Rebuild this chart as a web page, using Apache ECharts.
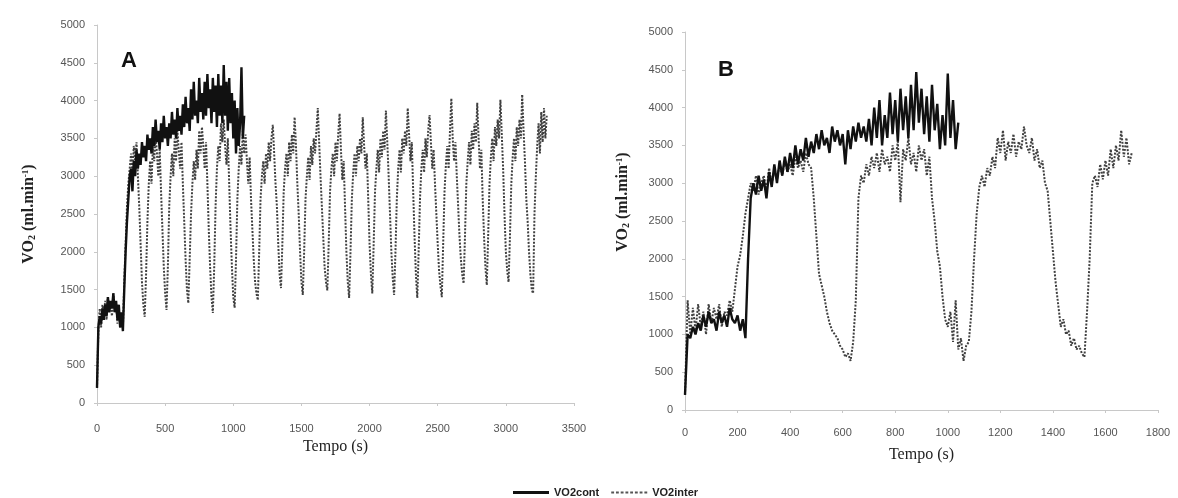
<!DOCTYPE html>
<html>
<head>
<meta charset="utf-8">
<script src="https://cdn.jsdelivr.net/npm/echarts@6/dist/echarts.min.js"></script>
<style>
  html, body { margin: 0; padding: 0; background: #fff; }
  #chart { width: 1178px; height: 498px; }
</style>
</head>
<body>
<div id="chart"></div>
<script>
// passo de tempo entre amostras (s)
var STEP = 10;

// Painel A - VO2 contínuo (0..1080 s)
var contA = [
  200, 1000, 1150, 1050, 1250, 1100, 1300, 1150, 1400, 1200,
  1350, 1250, 1450, 1200, 1350, 1100, 1300, 1000, 1200, 950,
  1500, 2000, 2400, 2700, 3000, 3100, 2800, 3200, 3000, 3350,
  3100, 3300, 3150, 3450, 3250, 3400, 3200, 3550, 3350, 3500,
  3300, 3650, 3400, 3750, 3450, 3600, 3350, 3700, 3450, 3800,
  3500, 3650, 3400, 3700, 3500, 3850, 3550, 3750, 3500, 3900,
  3600, 3800, 3550, 3950, 3650, 4050, 3700, 3900, 3600, 4150,
  3750, 4250, 3800, 4000, 3700, 4300, 3850, 4100, 3750, 4250,
  3800, 4350, 3900, 4150, 3700, 4300, 3850, 4200, 3650, 4350,
  3800, 4200, 3700, 4470, 3800, 4250, 3600, 4300, 3700, 4100,
  3500, 4000, 3300, 3900, 3400, 3700, 4440, 3500, 3800
];

// Painel A - VO2 intermitente (0..3300 s)
var interA = [
  200, 950, 1250, 1000, 1300, 1150, 1350, 1100, 1400, 1250,
  1300, 1150, 1450, 1200, 1300, 1050, 1250, 1000, 1150, 1000,
  1600, 2100, 2600, 2900, 3100, 3300, 3000, 3400, 3200, 3450,
  3000, 2600, 2100, 1600, 1300, 1140, 1700, 2400, 2900, 3200,
  2900, 3400, 3200, 3550, 3300, 3000, 3350, 2800, 2300, 1800,
  1450, 1230, 1800, 2600, 3000, 3300, 3000, 3500, 3200, 3600,
  3350, 3100, 3450, 2900, 2400, 1900, 1500, 1320, 1900, 2500,
  2900, 3200, 2950, 3350, 3100, 3600, 3300, 3650, 3400, 3100,
  3450, 2900, 2300, 1800, 1400, 1190, 1800, 2600, 3100, 3400,
  3200, 3700, 3450, 3750, 3400, 3150, 3500, 2900, 2300, 1800,
  1400, 1260, 1900, 2700, 3100, 3400, 3150, 3600, 3300, 3550,
  3200, 2900, 3250, 2700, 2300, 1900, 1600, 1450, 1360, 2000,
  2700, 3000, 3200, 2900, 3300, 3100, 3450, 3200, 3500, 3680,
  3300, 2900, 2600, 2100, 1700, 1520, 2100, 2800, 3100, 3300,
  3000, 3450, 3200, 3550, 3300, 3780, 3400, 2900, 2500, 2000,
  1600, 1430, 2000, 2700, 3000, 3250, 2950, 3400, 3150, 3500,
  3300, 3600, 3900, 3450, 3000, 2600, 2200, 1800, 1600, 1490,
  2100, 2800, 3100, 3300, 3000, 3450, 3200, 3550, 3830, 3350,
  2950, 3200, 2600, 2000, 1600, 1390, 2000, 2700, 3050, 3300,
  3000, 3400, 3200, 3500, 3300, 3780, 3400, 3100, 3300, 2700,
  2100, 1700, 1450, 2100, 2800, 3100, 3350, 3050, 3500, 3250,
  3600, 3350, 3870, 3450, 3000, 2500, 2000, 1650, 1430, 2000,
  2700, 3100, 3350, 3050, 3500, 3300, 3600, 3400, 3900, 3550,
  3200, 3450, 2800, 2200, 1700, 1390, 2000, 2700, 3100, 3350,
  3050, 3500, 3250, 3600, 3810, 3450, 3100, 3350, 2900, 2500,
  2100, 1750, 1550, 1400, 2100, 2800, 3150, 3400, 3100, 3600,
  4030, 3500, 3200, 3450, 3000, 2600, 2200, 1900, 1700, 1580,
  2200, 2900, 3200, 3450, 3150, 3600, 3350, 3700, 3450, 3970,
  3500, 3100, 3350, 2700, 2200, 1800, 1560, 2200, 2900, 3250,
  3500, 3200, 3650, 3400, 3750, 3500, 4010, 3550, 3100, 2500,
  2000, 1750, 1600, 2200, 2900, 3250, 3500, 3200, 3650, 3400,
  3750, 3500, 4080, 3600, 3200, 2700, 2400, 2000, 1700, 1500,
  1450, 2500, 3000, 3400, 3700, 3300, 3850, 3450, 3900, 3500,
  3800
];

// Painel B - VO2 contínuo (0..1040 s)
var contB = [
  200, 1000, 950, 1100, 1000, 1150, 1050, 1250, 1100, 1300,
  1150, 1200, 1050, 1300, 1150, 1250, 1100, 1350, 1200, 1150,
  1250, 1050, 1200, 950, 2000, 2800, 3000, 2850, 3100, 2900,
  3050, 2800, 3150, 2950, 3250, 3000, 3300, 3100, 3350, 3150,
  3400, 3200, 3500, 3250, 3450, 3300, 3600, 3350, 3550, 3400,
  3650, 3450, 3700, 3500, 3600, 3400, 3750, 3550, 3700, 3500,
  3650, 3250, 3700, 3450, 3750, 3550, 3800, 3600, 3750, 3550,
  3850, 3500, 4000, 3600, 4100, 3500, 3900, 3600, 4200, 3650,
  4100, 3550, 4250, 3700, 4150, 3600, 4300, 3700, 4470, 3800,
  4250, 3650, 4150, 3550, 4300, 3700, 4050, 3450, 3900, 3500,
  4450, 3600, 4100, 3450, 3800
];

// Painel B - VO2 intermitente (0..1700 s)
var interB = [
  200, 1450, 1000, 1350, 1050, 1400, 1100, 1300, 1000, 1400,
  1150, 1350, 1200, 1400, 1100, 1300, 1250, 1450, 1300, 1600,
  1900, 2050, 2300, 2600, 2800, 3000, 2900, 3100, 2850, 3000,
  3100, 2900, 3200, 3000, 3150, 3050, 3250, 3100, 3300, 3150,
  3250, 3100, 3350, 3200, 3300, 3150, 3400, 3250, 3200, 2800,
  2300, 1800, 1650, 1500, 1300, 1150, 1050, 1000, 950, 850,
  800, 700, 750, 650, 900, 1450, 2800, 3100, 3000, 3250,
  3100, 3350, 3200, 3400, 3150, 3450, 3250, 3350, 3150, 3500,
  3300, 3550, 2750, 3450, 3300, 3600, 3250, 3400, 3150, 3500,
  3300, 3450, 3100, 3350, 2800, 2500, 2100, 1900, 1500, 1200,
  1100, 1300, 900, 1450, 800, 950, 650, 850, 900, 1300,
  2000, 2600, 2950, 3100, 2950, 3200, 3100, 3350, 3200, 3600,
  3400, 3700, 3300, 3550, 3400, 3650, 3350, 3550, 3450, 3750,
  3500, 3400, 3600, 3300, 3450, 3200, 3300, 3000, 2900, 2500,
  2100, 1700, 1400, 1100, 1200, 1000, 1050, 850, 950, 800,
  850, 750, 700, 1300, 2000, 3000, 3100, 2950, 3250, 3050,
  3300, 3100, 3450, 3200, 3500, 3300, 3700, 3350, 3600, 3250,
  3400
];

var yTicks = { min: 0, max: 5000, interval: 500 };

function pairs(arr) {
  return arr.map(function (v, i) { return [i * STEP, v]; });
}

var labelFont = {
  color: "#555", fontSize: 11, fontFamily: "Liberation Sans",
  formatter: function (v) { return String(v); }
};
function nameRich() {
  return {
    a: { fontFamily: "Liberation Serif", fontSize: 16, color: "#222", fontWeight: "bold" },
    s: { fontFamily: "Liberation Serif", fontSize: 10, color: "#222", fontWeight: "bold", verticalAlign: "bottom", padding: [6, 0, 0, 0] },
    p: { fontFamily: "Liberation Serif", fontSize: 9, color: "#222", fontWeight: "bold", verticalAlign: "top", padding: [0, 0, 6, 0] }
  };
}
var yName = "{a|VO}{s|2}{a| (ml.min}{p|-1}{a|)}";

function yAxis(idx, gap, pad) {
  return {
    gridIndex: idx,
    type: "value",
    min: yTicks.min, max: yTicks.max, interval: yTicks.interval,
    name: yName,
    nameLocation: "middle",
    nameGap: gap,
    nameTextStyle: { rich: nameRich(), padding: pad },
    axisLine: { show: true, lineStyle: { color: "#c8c8c8", width: 1 } },
    axisTick: { show: true, length: 3, lineStyle: { color: "#c8c8c8" } },
    axisLabel: Object.assign({ margin: 12 }, labelFont),
    splitLine: { show: false }
  };
}

function xAxis(idx, max, interval, gap, margin) {
  return {
    gridIndex: idx,
    type: "value",
    min: 0, max: max, interval: interval,
    name: "Tempo (s)",
    nameLocation: "middle",
    nameGap: gap,
    nameTextStyle: { fontFamily: "Liberation Serif", fontSize: 16, color: "#222" },
    axisLine: { show: true, lineStyle: { color: "#c8c8c8", width: 1 } },
    axisTick: { show: true, length: 3, lineStyle: { color: "#c8c8c8" } },
    axisLabel: Object.assign({ margin: margin }, labelFont),
    splitLine: { show: false }
  };
}

var contStyle = { color: "#111", width: 2.4 };
var interStyle = { color: "#404040", width: 2, type: [2, 1.5] };

// ícone tracejado da legenda para a série intermitente
var dottedIcon = "path://M0,0h3v2h-3zM5,0h3v2h-3zM10,0h3v2h-3zM15,0h3v2h-3zM20,0h3v2h-3zM25,0h3v2h-3zM30,0h3v2h-3zM35,0h3v2h-3z";

var chart = echarts.init(document.getElementById("chart"));
var option = {
  animation: false,
  backgroundColor: "#fff",
  grid: [
    { left: 97, top: 25, width: 477, height: 378 },
    { left: 685, top: 32, width: 473, height: 378 }
  ],
  xAxis: [xAxis(0, 3500, 500, 36, 20), xAxis(1, 1800, 200, 37, 17)],
  yAxis: [yAxis(0, 60, 0), yAxis(1, 54, [0, 0, 0, 38])],
  legend: {
    data: [
      { name: "VO2cont", icon: "rect", itemStyle: { color: "#111" } },
      { name: "VO2inter", icon: dottedIcon, itemStyle: { color: "#555" } }
    ],
    top: 482,
    left: 508,
    itemWidth: 36,
    itemHeight: 3,
    itemGap: 12,
    textStyle: { fontSize: 11, fontWeight: "bold", color: "#222", fontFamily: "Liberation Sans" }
  },
  graphic: [
    { type: "text", left: 121, top: 50, style: { text: "A", font: "bold 22px Liberation Sans", fill: "#111" } },
    { type: "text", left: 718, top: 59, style: { text: "B", font: "bold 22px Liberation Sans", fill: "#111" } }
  ],
  series: [
    { name: "VO2inter", type: "line", xAxisIndex: 0, yAxisIndex: 0, symbol: "none", lineStyle: interStyle, itemStyle: { color: "#404040" }, data: pairs(interA) },
    { name: "VO2cont", type: "line", xAxisIndex: 0, yAxisIndex: 0, symbol: "none", lineStyle: contStyle, itemStyle: { color: "#111" }, data: pairs(contA) },
    { name: "VO2inter", type: "line", xAxisIndex: 1, yAxisIndex: 1, symbol: "none", lineStyle: interStyle, itemStyle: { color: "#404040" }, data: pairs(interB) },
    { name: "VO2cont", type: "line", xAxisIndex: 1, yAxisIndex: 1, symbol: "none", lineStyle: contStyle, itemStyle: { color: "#111" }, data: pairs(contB) }
  ]
};
chart.setOption(option);
</script>
</body>
</html>
